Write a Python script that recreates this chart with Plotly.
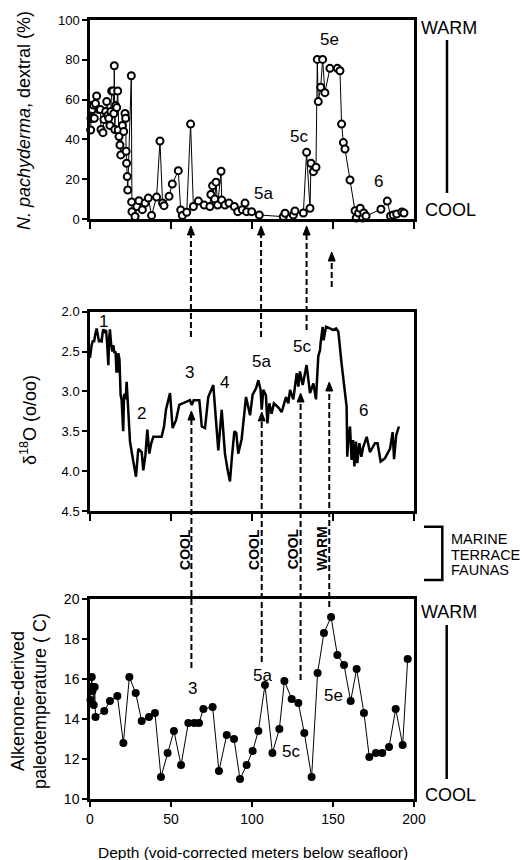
import plotly.graph_objects as go

# ---------------- data ----------------
# Top panel: N. pachyderma dextral (%)
pach_depth = [0.4, 0.6, 1.0, 1.4, 1.8, 2.1, 2.7, 3.4, 4.1, 5.5, 6.4, 6.8, 8.0, 8.6, 9.7, 10.3, 11.0, 11.6,
              12.3, 12.9, 13.4, 14.2, 14.7, 15.0, 15.3, 15.8, 16.5, 17.1, 17.4, 17.9, 18.5, 19.0, 20.0,
              20.8, 21.6, 22.0, 22.3, 22.6, 23.0, 23.3, 25.5, 25.7, 25.9, 27.8, 29.0, 30.2, 32.3, 34.0,
              36.0, 38.0, 41.1, 43.2, 44.8, 45.7, 48.8, 50.8, 54.5, 56.0, 57.0, 59.7, 62.1, 63.8, 66.9,
              70.5, 74.0, 74.6, 75.7, 77.0, 77.8, 78.8, 80.9, 81.3, 83.3, 85.8, 89.1, 91.2, 94.0, 95.7,
              96.7, 99.8, 104.5, 119.3, 120.4, 125.5, 126.5, 131.7, 133.7, 135.8, 136.4, 137.9, 139.5,
              140.3, 140.9, 142.4, 143.6, 145.0, 148.1, 152.7, 154.3, 155.3, 156.4, 157.4, 160.5, 163.6,
              164.3, 165.8, 166.8, 168.3, 169.0, 170.4, 179.6, 183.5, 185.5, 187.2, 189.3, 192.5, 193.8]
pach_pct = [44.7, 50.6, 57.0, 55.0, 50.6, 57.3, 50.6, 58.0, 61.8, 55.0, 55.0, 45.0, 43.4, 50.0, 54.0, 59.0,
            52.0, 50.6, 47.0, 54.0, 64.3, 64.3, 53.0, 77.0, 45.0, 57.0, 56.0, 64.3, 44.7, 41.4, 37.2, 32.2,
            47.0, 44.0, 53.0, 50.6, 34.0, 28.0, 21.3, 14.6, 72.0, 8.6, 3.7, 1.3, 6.3, 9.2, 4.7, 8.0, 10.5,
            1.8, 11.0, 39.2, 8.0, 6.7, 11.4, 17.6, 24.3, 4.5, 1.7, 3.4, 47.7, 6.3, 9.0, 7.0, 6.3, 12.3,
            16.7, 10.0, 18.5, 7.0, 24.0, 9.5, 7.0, 8.0, 6.3, 3.7, 4.7, 8.0, 3.7, 3.7, 2.0, 1.2, 2.9, 2.0,
            4.0, 3.0, 33.5, 5.4, 28.0, 23.8, 26.0, 80.2, 59.0, 66.2, 80.2, 63.5, 75.7, 75.7, 74.5, 47.7,
            38.4, 35.2, 19.6, 4.2, 0.5, 3.0, 5.4, 0.5, 3.0, 1.5, 4.9, 9.0, 1.5, 2.0, 2.5, 3.5, 3.0]

# Middle panel: delta 18O (o/oo)
d18o_depth = [0.0, 0.6, 1.0, 1.8, 2.5, 3.3, 4.1, 4.9, 5.6, 6.4, 7.2, 7.7, 8.2, 9.0, 9.9, 10.6, 11.3, 11.8,
              12.3, 13.0, 13.8, 14.4, 15.1, 15.8, 16.3, 16.9, 17.5, 18.2, 18.9, 19.5, 20.0, 20.5, 21.0,
              21.6, 22.1, 22.6, 23.1, 23.8, 24.7, 26.5, 28.4, 29.8, 30.8, 31.9, 32.9, 34.2, 35.4, 36.6,
              37.8, 39.1, 44.2, 45.7, 46.9, 49.4, 51.0, 53.1, 55.1, 61.7, 62.8, 64.0, 67.5, 69.0, 71.0,
              73.0, 76.1, 77.5, 79.2, 81.3, 83.3, 85.0, 86.4, 87.5, 89.1, 90.3, 91.5, 93.6, 96.3, 98.8,
              100.4, 102.5, 103.9, 105.3, 106.0, 107.0, 108.6, 109.5, 110.7, 112.1, 113.5, 116.2, 118.3,
              121.0, 122.4, 123.5, 125.5, 127.6, 128.6, 129.6, 131.3, 133.7, 135.8, 137.9, 139.5, 140.9,
              142.0, 142.3, 143.6, 144.2, 145.7, 148.1, 150.2, 151.9, 153.3, 155.3, 157.5, 158.4, 158.8,
              159.6, 160.5, 161.5, 162.4, 163.2, 164.2, 165.0, 166.3, 167.5, 168.6, 170.8, 172.8, 175.9,
              177.5, 179.4, 182.0, 185.2, 186.8, 187.7, 189.0, 190.7]
d18o_val = [2.58, 2.45, 2.42, 2.36, 2.38, 2.28, 2.21, 2.30, 2.38, 2.36, 2.37, 2.28, 2.22, 2.25, 2.23, 2.40,
            2.67, 2.35, 2.22, 2.40, 2.50, 2.42, 2.52, 2.50, 2.75, 2.75, 2.52, 2.60, 3.05, 3.10, 3.25, 3.50,
            3.05, 3.03, 3.10, 2.88, 3.05, 3.25, 3.63, 3.85, 4.07, 3.72, 3.74, 3.76, 3.99, 3.80, 3.48, 3.78,
            3.65, 3.57, 3.57, 3.44, 3.23, 3.02, 3.46, 3.36, 3.17, 3.11, 3.17, 3.11, 3.11, 3.44, 3.46, 3.07,
            2.92, 3.35, 3.74, 3.23, 3.78, 3.99, 4.13, 3.85, 3.50, 3.52, 3.78, 3.60, 3.07, 3.30, 3.04, 2.96,
            2.86, 2.98, 3.23, 2.98, 3.05, 3.40, 3.15, 3.28, 3.15, 3.20, 3.26, 3.07, 3.15, 2.98, 3.10, 2.77,
            2.94, 2.75, 2.92, 2.67, 3.02, 2.90, 3.10, 2.56, 2.48, 2.40, 2.19, 2.36, 2.19, 2.21, 2.23, 2.21,
            2.25, 2.65, 3.00, 3.19, 3.82, 3.55, 3.44, 3.86, 3.61, 3.94, 3.63, 3.90, 3.65, 3.82, 3.70, 3.57,
            3.76, 3.65, 3.65, 3.88, 3.84, 3.72, 3.51, 3.85, 3.55, 3.44]

# Bottom panel: alkenone-derived paleotemperature (C)
temp_depth = [0.3, 0.6, 1.1, 1.5, 1.8, 2.3, 2.9, 3.4, 8.8, 12.3, 16.9, 20.6, 24.3, 28.2, 31.9, 36.4, 40.1,
              43.8, 47.9, 51.8, 56.2, 60.7, 64.4, 67.3, 70.0, 75.7, 79.6, 84.4, 88.9, 92.6, 96.7, 100.4,
              103.9, 108.0, 112.6, 116.9, 120.0, 124.5, 128.6, 132.3, 136.8, 140.5, 144.4, 148.8, 152.7,
              156.8, 160.9, 164.6, 169.1, 172.4, 176.5, 180.4, 184.6, 188.7, 193.0, 196.1]
temp_val = [14.95, 15.6, 16.1, 15.4, 15.6, 14.7, 15.6, 14.1, 14.4, 14.9, 15.15, 12.8, 16.1, 15.3, 13.9, 14.1,
            14.3, 11.1, 12.3, 13.4, 11.7, 13.8, 13.8, 13.8, 14.5, 14.6, 11.4, 13.2, 13.0, 11.0, 11.7, 12.4,
            13.4, 15.7, 12.3, 13.5, 15.9, 15.0, 14.8, 13.3, 11.1, 16.3, 18.3, 19.1, 17.2, 16.7, 14.9, 16.5,
            14.3, 12.1, 12.3, 12.3, 12.6, 14.5, 12.7, 17.0]

# labels
top_stage_labels = [("5a", 106.8, 12.8), ("5c", 129.3, 41.7), ("5e", 148.1, 90.0), ("6", 177.8, 18.8)]
mid_stage_labels = [("1", 8.6, 2.12), ("2", 31.8, 3.28), ("3", 61.7, 2.76), ("4", 83.3, 2.89),
                    ("5a", 105.6, 2.62), ("5c", 130.9, 2.44), ("5e", 149.8, 1.87), ("6", 169.0, 3.24)]
bot_stage_labels = [("3", 63.3, 15.55), ("5a", 106.2, 16.2), ("5c", 124.0, 12.4), ("5e", 150.0, 15.2)]
terrace_labels = [("COOL", 58.6), ("COOL", 101.2), ("COOL", 125.5), ("WARM", 143.0)]

W, H = 523, 860
L, R = 90, 109
FONT = "Liberation Sans, Arial, Helvetica, sans-serif"
XSCALE = (W - L - R) / 200.0  # pixels per metre of depth


def py(p):  # pixel row -> paper y
    return 1 - p / H


def px(p):  # pixel column -> paper x
    return (p - L) / (W - L - R)


fig = go.Figure()

fig.add_trace(go.Scatter(x=pach_depth, y=pach_pct, mode="lines+markers", xaxis="x", yaxis="y",
                         line=dict(color="black", width=1),
                         marker=dict(symbol="circle", size=7, color="white",
                                     line=dict(color="black", width=2)),
                         cliponaxis=False, showlegend=False))
fig.add_trace(go.Scatter(x=d18o_depth, y=d18o_val, mode="lines", xaxis="x2", yaxis="y2",
                         line=dict(color="black", width=2.5), showlegend=False))
fig.add_trace(go.Scatter(x=temp_depth, y=temp_val, mode="lines+markers", xaxis="x3", yaxis="y3",
                         line=dict(color="black", width=1),
                         marker=dict(symbol="circle", size=8, color="black"),
                         cliponaxis=False, showlegend=False))

axis_common = dict(showline=True, linecolor="black", linewidth=2.5, mirror=True, showgrid=False,
                   zeroline=False, ticks="outside", tickcolor="black", tickwidth=2, automargin=False,
                   tickfont=dict(family=FONT, size=13, color="black"))

dom_top = [py(219), py(20)]
dom_mid = [py(511), py(311.7)]
dom_bot = [py(799), py(599)]

fig.update_layout(
    template="none",
    width=W, height=H, margin=dict(l=L, r=R, t=0, b=0, pad=0, autoexpand=False),
    paper_bgcolor="white", plot_bgcolor="white",
    xaxis=dict(axis_common, domain=[0, 1], range=[0, 200], anchor="y", tickvals=[0, 50, 100, 150, 200],
               showticklabels=False, ticklen=7),
    xaxis2=dict(axis_common, domain=[0, 1], range=[0, 200], anchor="y2", tickvals=[0, 50, 100, 150, 200],
                showticklabels=False, ticklen=7),
    xaxis3=dict(axis_common, domain=[0, 1], range=[0, 200], anchor="y3", tickvals=[0, 50, 100, 150, 200],
                ticklen=5, tickfont=dict(family=FONT, size=14, color="black")),
    yaxis=dict(axis_common, domain=dom_top, range=[0, 100], anchor="x", tickvals=[0, 20, 40, 60, 80, 100],
               ticklen=5),
    yaxis2=dict(axis_common, domain=dom_mid, range=[4.5, 2.0], anchor="x2",
                tickvals=[2.0, 2.5, 3.0, 3.5, 4.0, 4.5], ticktext=["2.0", "2.5", "3.0", "3.5", "4.0", "4.5"],
                ticklen=5),
    yaxis3=dict(axis_common, domain=dom_bot, range=[10, 20], anchor="x3", tickvals=[10, 12, 14, 16, 18, 20],
                ticklen=5, tickfont=dict(family=FONT, size=14, color="black")),
)

ann = []
shapes = []


def txt(text, x, y, size, xref="paper", yref="paper", angle=0, xanchor="center", bold=False):
    ann.append(dict(text=("<b>%s</b>" % text) if bold else text, x=x, y=y, xref=xref, yref=yref,
                    showarrow=False, textangle=angle, xanchor=xanchor, yanchor="middle",
                    font=dict(family=FONT, size=size, color="black")))


# axis titles
txt("<i>N. pachyderma</i>, dextral (%)", px(24), py(121), 18, angle=-90)
txt("δ<sup>18</sup>O (o/oo)", px(28), py(420), 18, angle=-90)
txt("Alkenone-derived", px(18), py(701), 18, angle=-90)
txt("paleotemperature ( C)", px(40), py(701), 18, angle=-90)
txt("Depth (void-corrected meters below seafloor)", px(253), py(852), 15.5)

# stage labels
for t, x, y in top_stage_labels:
    txt(t, x, y, 17, xref="x", yref="y")
for t, x, y in mid_stage_labels:
    txt(t, x, y, 17, xref="x2", yref="y2")
for t, x, y in bot_stage_labels:
    txt(t, x, y, 17, xref="x3", yref="y3")

# warm / cool scales
txt("WARM", px(449), py(28.5), 18)
txt("COOL", px(450), py(210.5), 18)
txt("WARM", px(449), py(611.5), 18)
txt("COOL", px(450), py(794.5), 18)
for x0, y0, y1 in [(447, 40, 193), (446.7, 625, 779)]:
    shapes.append(dict(type="line", xref="paper", yref="paper", x0=px(x0), x1=px(x0), y0=py(y0), y1=py(y1),
                       line=dict(color="black", width=2.5)))

# marine terrace faunas bracket
shapes.append(dict(type="path", xref="paper", yref="paper",
                   path="M %f,%f L %f,%f L %f,%f L %f,%f" % (px(424), py(526.7), px(442.3), py(526.7),
                                                            px(442.3), py(580), px(424), py(580)),
                   line=dict(color="black", width=2.5)))
for i, t in enumerate(["MARINE", "TERRACE", "FAUNAS"]):
    txt(t, px(449), py(539 + 15.5 * i), 14.5, xanchor="left")

for t, x in terrace_labels:
    txt(t, x, py(549), 14, xref="x3", angle=-90, bold=True)

# dashed arrows: (depth, bottom pixel row, tip pixel row)
arrows = [(62.3, 337, 226), (105.6, 337, 226), (133.7, 330, 226), (149.2, 287, 252),
          (62.6, 668, 411), (106.0, 662, 412), (130.0, 680, 393), (147.7, 607, 382)]
hw = 3.5 / XSCALE  # half width of arrow head in depth units
for x, yb, yt in arrows:
    shapes.append(dict(type="line", xref="x3", yref="paper", x0=x, x1=x, y0=py(yb), y1=py(yt + 6),
                       line=dict(color="black", width=2, dash="6px,3px")))
    shapes.append(dict(type="path", xref="x3", yref="paper",
                       path="M %f,%f L %f,%f L %f,%f Z" % (x - hw, py(yt + 9), x, py(yt), x + hw, py(yt + 9)),
                       fillcolor="black", line=dict(color="black", width=1)))

fig.update_layout(annotations=ann, shapes=shapes)
fig.write_html("out.html")
